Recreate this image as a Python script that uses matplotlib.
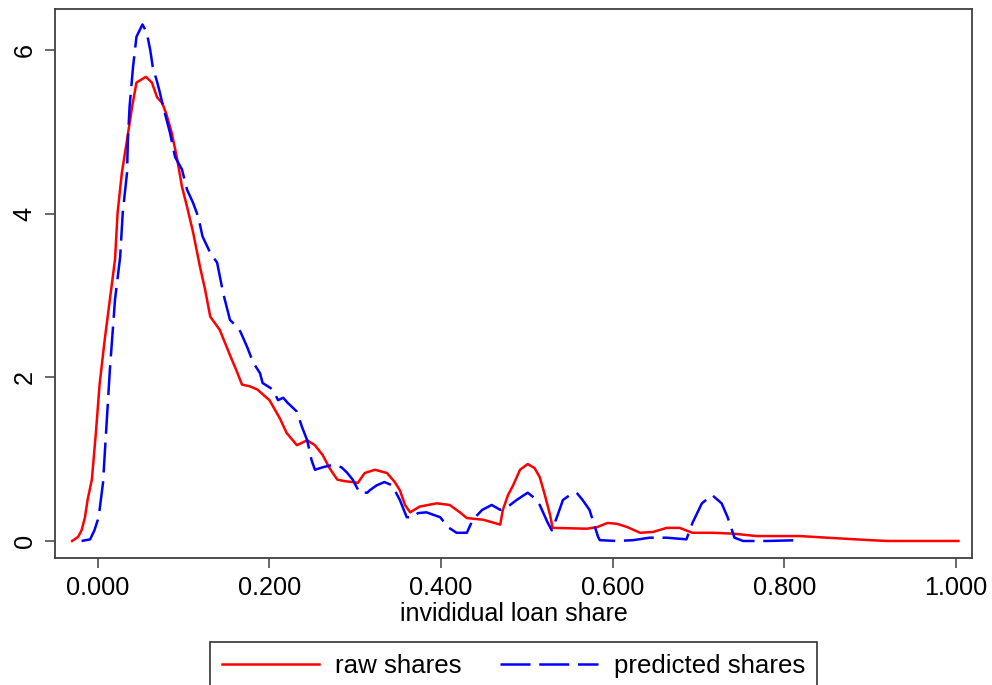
import matplotlib
matplotlib.use('agg')
import matplotlib.pyplot as plt

plt.rcParams['font.family'] = ['Liberation Sans', 'DejaVu Sans']

# raw shares density
raw_x = [-0.030, -0.023, -0.019, -0.015, -0.012, -0.007, -0.002, 0.002, 0.008, 0.014,
         0.020, 0.023, 0.028, 0.034, 0.040, 0.045, 0.056, 0.063, 0.069, 0.075,
         0.080, 0.086, 0.092, 0.098, 0.104, 0.111, 0.119, 0.125, 0.131, 0.142,
         0.154, 0.162, 0.168, 0.177, 0.186, 0.200, 0.212, 0.220, 0.232, 0.244,
         0.253, 0.262, 0.270, 0.279, 0.288, 0.297, 0.303, 0.311, 0.323, 0.337,
         0.346, 0.352, 0.358, 0.364, 0.375, 0.395, 0.410, 0.422, 0.430, 0.439,
         0.449, 0.469, 0.472, 0.478, 0.484, 0.492, 0.501, 0.509, 0.515, 0.521,
         0.527, 0.530, 0.570, 0.582, 0.594, 0.605, 0.617, 0.632, 0.647, 0.663,
         0.678, 0.693, 0.717, 0.740, 0.768, 0.818, 0.850, 0.900, 0.920, 1.003]
raw_y = [0.00, 0.05, 0.13, 0.29, 0.50, 0.75, 1.36, 1.91, 2.46, 2.95,
         3.44, 4.01, 4.50, 4.90, 5.31, 5.60, 5.67, 5.60, 5.42, 5.35,
         5.21, 4.99, 4.69, 4.33, 4.08, 3.77, 3.35, 3.07, 2.74, 2.58,
         2.27, 2.07, 1.91, 1.89, 1.85, 1.72, 1.50, 1.32, 1.17, 1.23,
         1.17, 1.05, 0.89, 0.75, 0.73, 0.72, 0.71, 0.83, 0.87, 0.83,
         0.72, 0.62, 0.44, 0.35, 0.42, 0.46, 0.44, 0.35, 0.28, 0.27,
         0.26, 0.20, 0.38, 0.56, 0.68, 0.87, 0.94, 0.89, 0.78, 0.56,
         0.32, 0.16, 0.15, 0.17, 0.22, 0.21, 0.17, 0.10, 0.11, 0.16,
         0.16, 0.10, 0.10, 0.09, 0.06, 0.06, 0.04, 0.01, 0.00, 0.00]

# predicted shares density
pred_x = [-0.019, -0.009, -0.004, 0.000, 0.002, 0.006, 0.009, 0.014, 0.020, 0.026,
          0.029, 0.034, 0.035, 0.037, 0.041, 0.045, 0.052, 0.057, 0.061, 0.064,
          0.069, 0.072, 0.076, 0.084, 0.090, 0.098, 0.104, 0.111, 0.117, 0.122,
          0.131, 0.139, 0.146, 0.154, 0.157, 0.166, 0.174, 0.181, 0.189, 0.192,
          0.204, 0.210, 0.216, 0.221, 0.232, 0.238, 0.244, 0.249, 0.253, 0.262,
          0.274, 0.284, 0.290, 0.297, 0.305, 0.314, 0.317, 0.325, 0.334, 0.343,
          0.352, 0.360, 0.367, 0.373, 0.383, 0.399, 0.408, 0.418, 0.430, 0.437,
          0.448, 0.459, 0.469, 0.478, 0.488, 0.501, 0.507, 0.515, 0.524, 0.529,
          0.535, 0.542, 0.550, 0.558, 0.565, 0.573, 0.583, 0.585, 0.605, 0.624,
          0.643, 0.663, 0.686, 0.693, 0.704, 0.716, 0.727, 0.734, 0.742, 0.752,
          0.780, 0.818]
pred_y = [0.00, 0.02, 0.13, 0.26, 0.38, 0.71, 1.23, 2.09, 2.95, 3.47,
          4.01, 4.50, 4.90, 5.31, 5.79, 6.16, 6.31, 6.21, 6.00, 5.79,
          5.61, 5.49, 5.31, 4.99, 4.69, 4.54, 4.29, 4.13, 3.96, 3.72,
          3.52, 3.40, 3.03, 2.70, 2.67, 2.56, 2.37, 2.18, 2.05, 1.93,
          1.85, 1.72, 1.75, 1.69, 1.58, 1.39, 1.23, 0.99, 0.87, 0.90,
          0.93, 0.90, 0.84, 0.75, 0.59, 0.59, 0.62, 0.68, 0.72, 0.68,
          0.50, 0.29, 0.29, 0.34, 0.35, 0.29, 0.17, 0.10, 0.10, 0.26,
          0.38, 0.44, 0.38, 0.42, 0.50, 0.59, 0.54, 0.44, 0.23, 0.13,
          0.29, 0.50, 0.56, 0.59, 0.50, 0.38, 0.05, 0.01, 0.00, 0.01,
          0.04, 0.04, 0.02, 0.22, 0.46, 0.56, 0.46, 0.29, 0.04, 0.00,
          0.00, 0.01]

x_ticks = [0.0, 0.2, 0.4, 0.6, 0.8, 1.0]
y_ticks = [0, 2, 4, 6]

fig = plt.figure(figsize=(9.92, 6.85), dpi=100)
ax = fig.add_axes([0.0554, 0.1854, 0.9246, 0.8016])

ax.plot(raw_x, raw_y, color='#ff0000', lw=1.8, label='raw shares')
ax.plot(pred_x, pred_y, color='#0000ff', lw=1.8, dashes=(12, 3.5), label='predicted shares')

ax.set_xlim(-0.050, 1.019)
ax.set_ylim(-0.208, 6.50)
ax.set_xticks(x_ticks)
ax.set_xticklabels(['%.3f' % t for t in x_ticks])
ax.set_yticks(y_ticks)
ax.set_yticklabels([str(t) for t in y_ticks])
plt.setp(ax.get_yticklabels(), rotation=90, va='center')

ax.tick_params(length=7.2, width=1.1, color='#404040', labelsize=18.2, pad=6)
for s in ax.spines.values():
    s.set_color('#404040')
    s.set_linewidth(1.3)

ax.set_xlabel('invididual loan share', fontsize=18, labelpad=1)

leg = fig.legend(loc='upper center', bbox_to_anchor=(0.5176, 1 - 642 / 685), ncol=2,
                 frameon=True, fancybox=False, edgecolor='black', borderaxespad=0,
                 handlelength=3.77, handletextpad=0.62, columnspacing=1.5,
                 borderpad=0.45, fontsize=18.6)
leg.get_frame().set_linewidth(1.2)

fig.savefig('out.png', dpi=100)
